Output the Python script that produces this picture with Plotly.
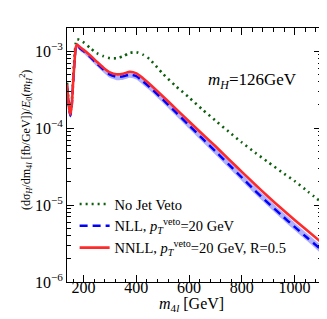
import plotly.graph_objects as go

m4l = [137, 140, 145, 150, 155, 160, 165, 170, 175, 180, 190, 200, 225, 250, 275, 300, 325, 350,
       375, 400, 425, 450, 500, 550, 600, 650, 700, 750, 800, 850, 900, 950, 1000, 1050, 1100]

no_veto = [3.9e-4, 3.0e-4, 1.95e-4, 1.65e-4, 2.2e-4, 4.3e-4, 8.0e-4, 1.25e-3, 1.43e-3, 1.42e-3,
           1.36e-3, 1.3e-3, 1.1e-3, 9.4e-4, 8.6e-4, 8.1e-4, 8.1e-4, 8.6e-4, 9.5e-4, 9.7e-4,
           9.0e-4, 7.9e-4, 5.1e-4, 3.5e-4, 2.5e-4, 1.75e-4, 1.25e-4, 9.0e-5, 6.5e-5, 4.8e-5,
           3.6e-5, 2.7e-5, 2.05e-5, 1.5e-5, 1.1e-5]

nnll = [3.7e-4, 2.8e-4, 1.8e-4, 1.5e-4, 2.0e-4, 3.8e-4, 7.0e-4, 1.1e-3, 1.22e-3, 1.18e-3,
        1.1e-3, 1.04e-3, 8.8e-4, 7.3e-4, 6.1e-4, 5.3e-4, 5.0e-4, 5.1e-4, 5.4e-4, 5.15e-4,
        4.45e-4, 3.75e-4, 2.6e-4, 1.78e-4, 1.22e-4, 8.4e-5, 5.8e-5, 3.95e-5, 2.7e-5, 1.85e-5,
        1.28e-5, 9.0e-6, 6.4e-6, 4.6e-6, 3.3e-6]

nll = [3.6e-4, 2.75e-4, 1.75e-4, 1.45e-4, 1.95e-4, 3.7e-4, 6.8e-4, 1.07e-3, 1.19e-3, 1.15e-3,
       1.06e-3, 1.0e-3, 8.4e-4, 6.9e-4, 5.75e-4, 4.95e-4, 4.65e-4, 4.7e-4, 4.95e-4, 4.72e-4,
       4.05e-4, 3.42e-4, 2.36e-4, 1.6e-4, 1.08e-4, 7.35e-5, 5.0e-5, 3.38e-5, 2.28e-5, 1.54e-5,
       1.06e-5, 7.4e-6, 5.2e-6, 3.7e-6, 2.65e-6]

nll_lo = [3.35e-4, 2.55e-4, 1.62e-4, 1.34e-4, 1.8e-4, 3.45e-4, 6.3e-4, 9.9e-4, 1.1e-3, 1.07e-3,
          9.8e-4, 9.3e-4, 7.75e-4, 6.35e-4, 5.3e-4, 4.5e-4, 4.2e-4, 4.25e-4, 4.5e-4, 4.28e-4,
          3.67e-4, 3.1e-4, 2.14e-4, 1.45e-4, 9.8e-5, 6.65e-5, 4.52e-5, 3.06e-5, 2.06e-5, 1.39e-5,
          9.6e-6, 6.7e-6, 4.7e-6, 3.35e-6, 2.35e-6]

nll_hi = [3.85e-4, 2.95e-4, 1.88e-4, 1.56e-4, 2.08e-4, 3.95e-4, 7.3e-4, 1.15e-3, 1.28e-3, 1.24e-3,
          1.15e-3, 1.08e-3, 9.05e-4, 7.45e-4, 6.25e-4, 5.4e-4, 5.1e-4, 5.15e-4, 5.4e-4, 5.18e-4,
          4.55e-4, 3.86e-4, 2.66e-4, 1.8e-4, 1.22e-4, 8.3e-5, 5.65e-5, 3.82e-5, 2.58e-5, 1.74e-5,
          1.2e-5, 8.35e-6, 5.9e-6, 4.2e-6, 3.0e-6]

x_ticks = [200, 400, 600, 800, 1000]
y_ticks = [1e-6, 1e-5, 1e-4, 1e-3]
y_ticklabels = ["10<sup>−6</sup>", "10<sup>−5</sup>", "10<sup>−4</sup>", "10<sup>−3</sup>"]

FONT = "Liberation Serif, Times New Roman, serif"

fig = go.Figure()
fig.add_trace(go.Scatter(x=m4l, y=no_veto, mode="lines", name="No Jet Veto",
                         line=dict(color="#0d5e0d", width=2.6, dash="2px,4px", shape="spline", smoothing=0.6)))
fig.add_trace(go.Scatter(x=m4l, y=nll_lo, mode="lines", showlegend=False, hoverinfo="skip",
                         line=dict(width=0, shape="spline", smoothing=0.6)))
fig.add_trace(go.Scatter(x=m4l, y=nll_hi, mode="lines", showlegend=False, hoverinfo="skip",
                         fill="tonexty", fillcolor="rgba(110,110,255,0.55)",
                         line=dict(width=0, shape="spline", smoothing=0.6)))
fig.add_trace(go.Scatter(x=m4l, y=nll, mode="lines",
                         name="NLL, <i>p</i><sub><i>T</i></sub><sup>veto</sup>=20 GeV",
                         line=dict(color="#0000ff", width=2.4, dash="8px,5px", shape="spline", smoothing=0.6)))
fig.add_trace(go.Scatter(x=m4l, y=nnll, mode="lines",
                         name="NNLL, <i>p</i><sub><i>T</i></sub><sup>veto</sup>=20 GeV, R=0.5",
                         line=dict(color="#ff2a2a", width=2.6, shape="spline", smoothing=0.6)))

minor_y = [k * 10 ** e for e in range(-6, -2) for k in range(2, 10)]

fig.update_layout(
    width=327, height=319,
    margin=dict(l=59, r=14, t=20, b=45),
    paper_bgcolor="white", plot_bgcolor="white",
    font=dict(family=FONT, size=15, color="black"),
    showlegend=True,
    legend=dict(x=0.03, y=0.37, xanchor="left", yanchor="top", traceorder="normal",
                bgcolor="rgba(0,0,0,0)", font=dict(family=FONT, size=14.5, color="black"),
                tracegroupgap=0, itemwidth=30),
    xaxis=dict(range=[137, 1100], tickvals=x_ticks, ticks="inside", ticklen=7,
               tickfont=dict(family=FONT, size=16, color="black"), ticklabelstandoff=-9,
               tickcolor="black", showline=True, linecolor="black", linewidth=1,
               mirror="ticks", showgrid=False, zeroline=False,
               minor=dict(dtick=40, ticks="inside", ticklen=3.5, tickcolor="black", showgrid=False)),
    yaxis=dict(type="log", range=[-6, -2.699], tickvals=y_ticks, ticktext=y_ticklabels,
               tickfont=dict(family=FONT, size=16, color="black"),
               ticks="inside", ticklen=7, tickcolor="black", showline=True, linecolor="black",
               linewidth=1, mirror="ticks", showgrid=False, zeroline=False,
               minor=dict(tickvals=minor_y, ticks="inside", ticklen=3.5, tickcolor="black", showgrid=False)),
    annotations=[
        dict(text="<i>m</i><sub><i>H</i></sub>=126GeV", xref="paper", yref="paper",
             x=0.915, y=0.79, xanchor="right", yanchor="middle", showarrow=False,
             font=dict(family=FONT, size=17, color="black")),
        dict(text="<i>m</i><sub>4<i>l</i></sub> [GeV]", xref="paper", yref="paper",
             x=0.49, y=-0.09, xanchor="center", yanchor="middle", showarrow=False,
             font=dict(family=FONT, size=16, color="black")),
        dict(text="(dσ<sub><i>H</i></sub>/dm<sub>4<i>l</i></sub> [fb/GeV])/<i>E</i><sub>0</sub>(<i>m</i><sub><i>H</i></sub><sup>2</sup>)",
             xref="paper", yref="paper", x=-0.16, y=0.56, xanchor="center", yanchor="middle",
             textangle=-90, showarrow=False, font=dict(family=FONT, size=12, color="black")),
    ],
)

fig.write_html("out.html")
